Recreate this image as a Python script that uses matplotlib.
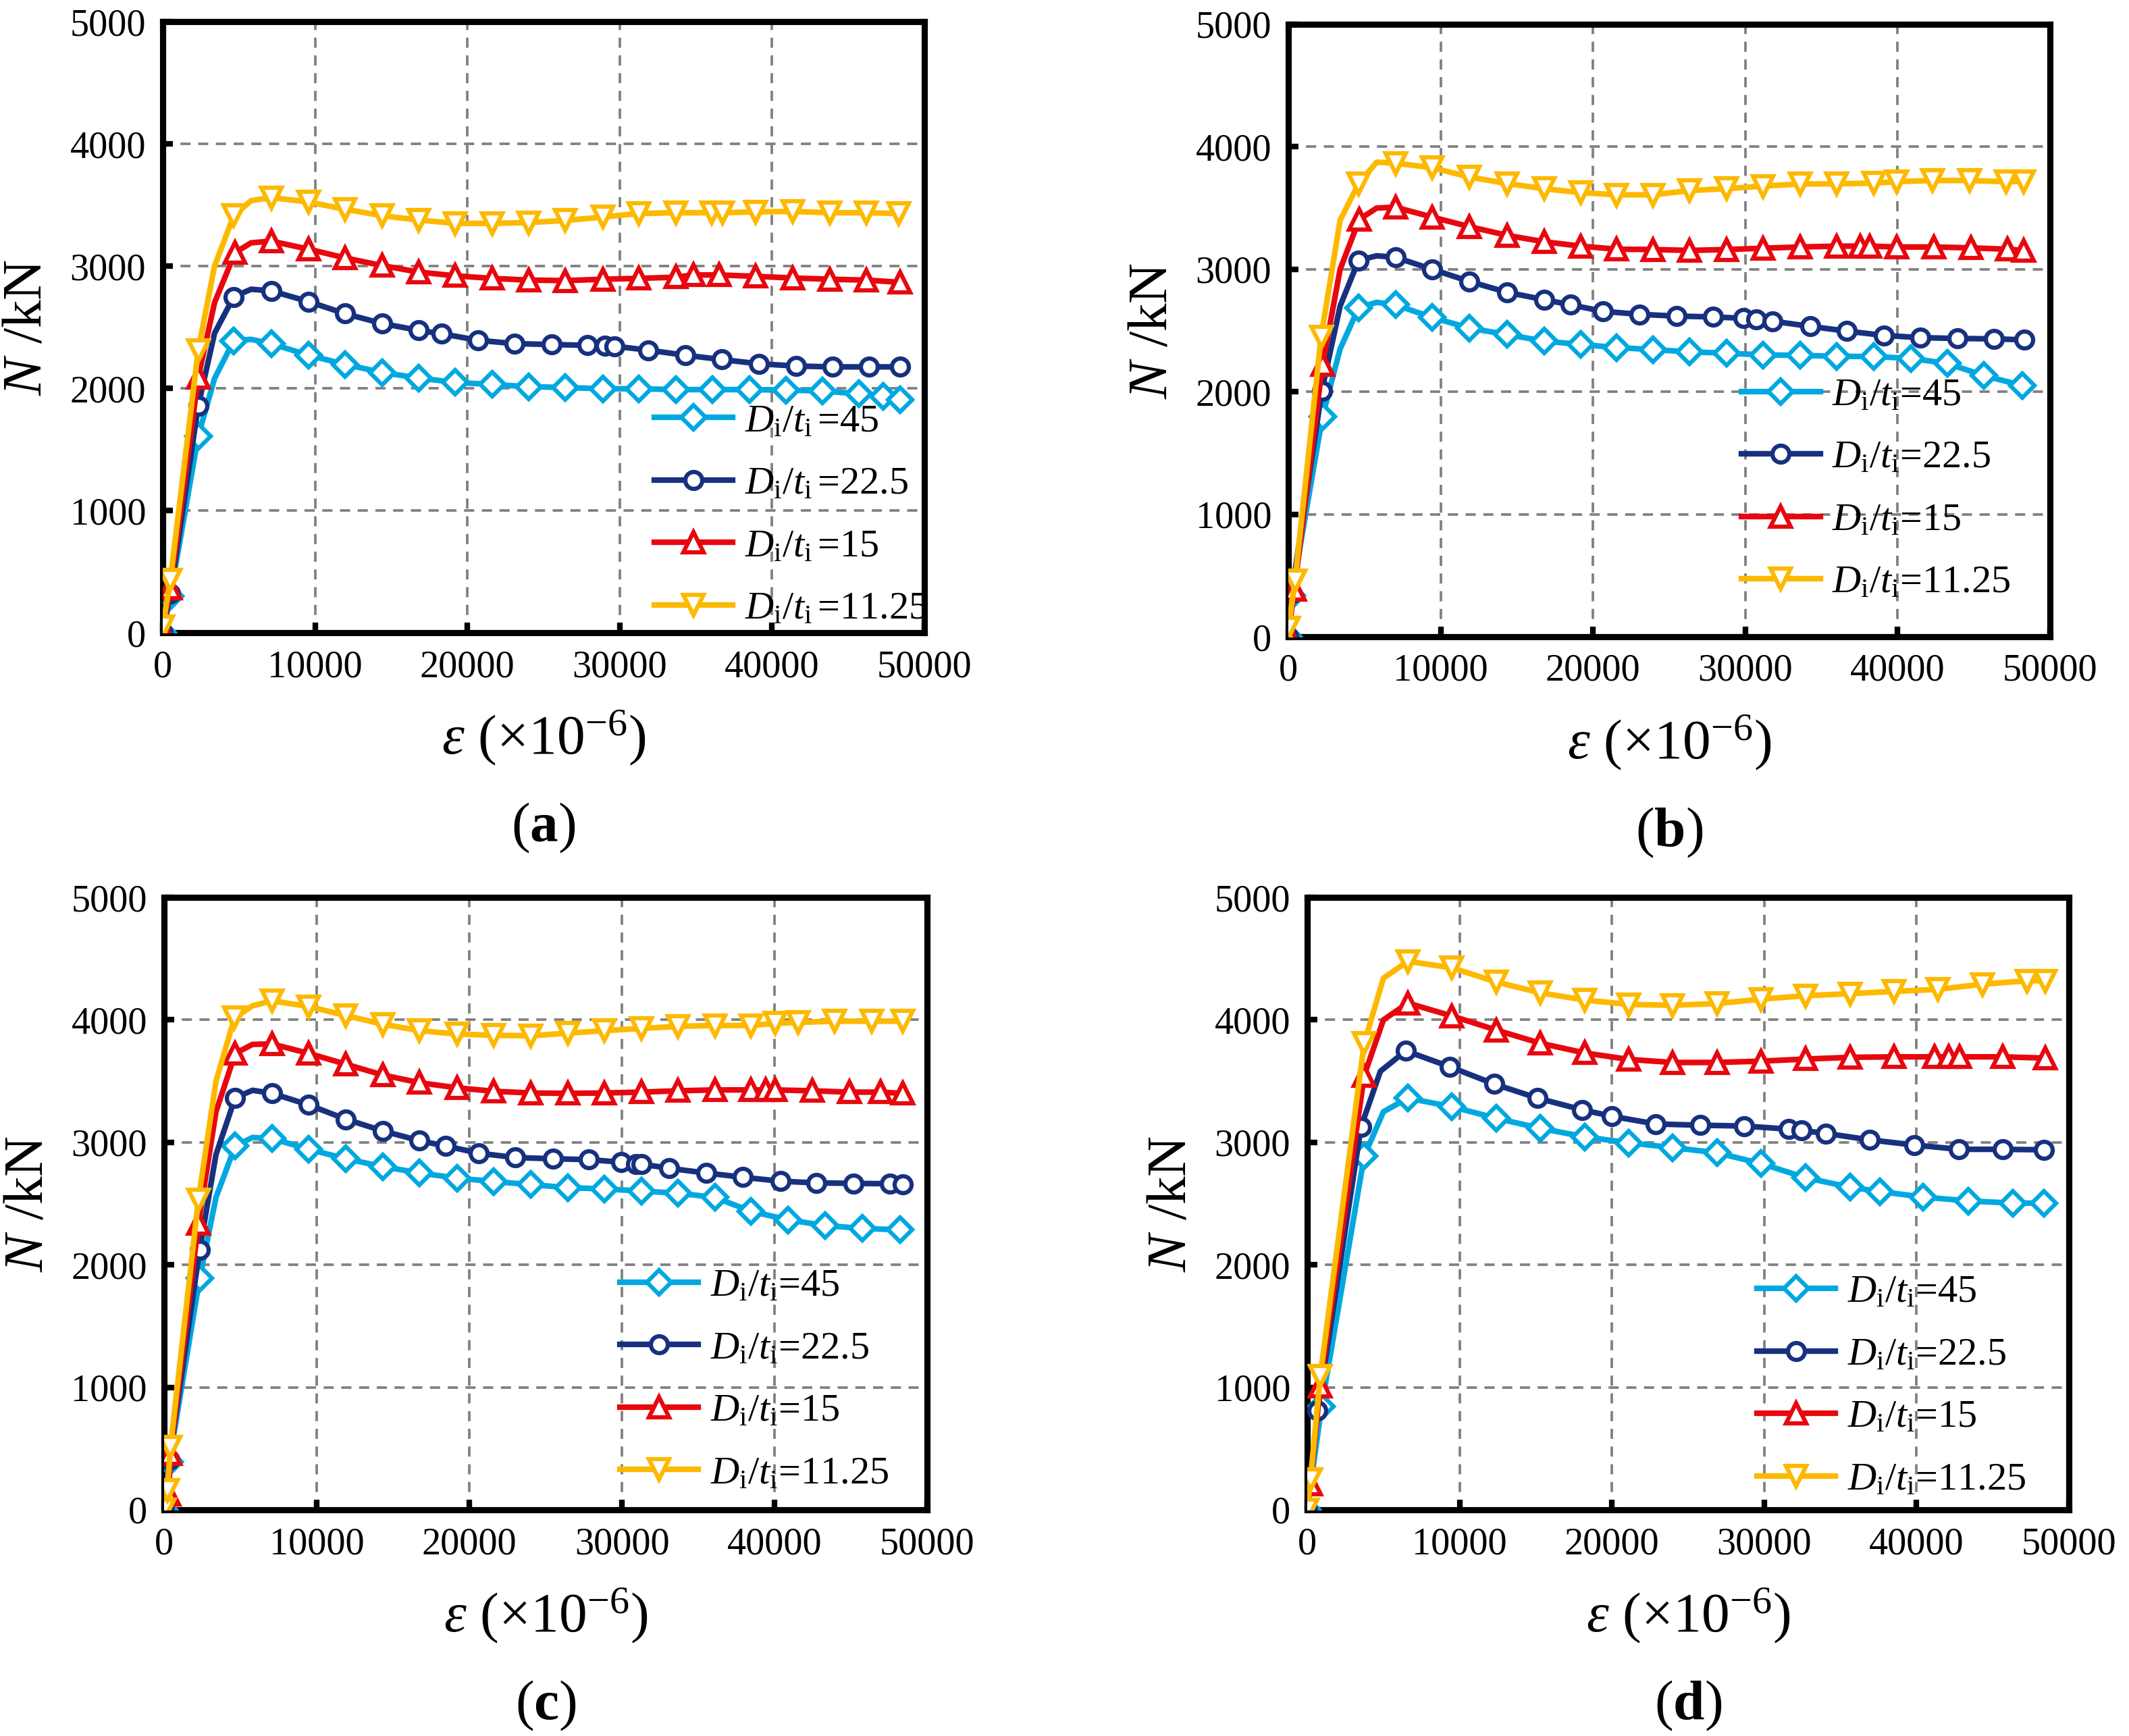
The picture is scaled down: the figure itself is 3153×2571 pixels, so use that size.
import matplotlib
matplotlib.use("Agg")
import matplotlib.pyplot as plt
import numpy as np

plt.rcParams['font.family'] = ['Liberation Serif', 'DejaVu Serif']
plt.rcParams['mathtext.fontset'] = 'custom'
plt.rcParams['mathtext.rm'] = 'Liberation Serif'
plt.rcParams['mathtext.it'] = 'Liberation Serif:italic'
plt.rcParams['mathtext.bf'] = 'Liberation Serif:bold'

# ---------------- data ----------------
labels_legend = ["=45", "=22.5", "=15", "=11.25"]
panel_names = ["a", "b", "c", "d"]

# Panel (a)
a45_x = [0, 500, 2330, 4660, 7120, 9580, 11950, 14400, 16780, 19200, 21610, 24030, 26440, 28900, 31270, 33690, 36100, 38520, 40930, 43310, 45680, 47290, 48390]
a45_y = [0, 300, 1609, 2389, 2365, 2270, 2196, 2129, 2084, 2048, 2031, 2013, 2006, 1996, 1996, 1989, 1989, 1989, 1985, 1978, 1954, 1936, 1908]
a225_x = [0, 500, 2330, 4660, 7120, 9580, 11950, 14400, 16780, 18310, 20680, 23090, 25510, 27880, 29030, 29660, 31860, 34320, 36690, 39150, 41570, 43980, 46360, 48390]
a225_y = [0, 320, 1855, 2748, 2797, 2709, 2611, 2530, 2474, 2446, 2393, 2365, 2358, 2351, 2347, 2344, 2312, 2270, 2235, 2200, 2182, 2175, 2175, 2175]
a15_x = [0, 500, 2330, 4750, 7120, 9580, 11950, 14400, 16780, 19200, 21610, 24030, 26440, 28900, 31270, 33690, 34830, 36530, 38900, 41360, 43810, 46190, 48390]
a15_y = [30, 362, 2090, 3110, 3204, 3138, 3067, 3004, 2951, 2920, 2899, 2885, 2881, 2892, 2899, 2909, 2927, 2927, 2916, 2902, 2892, 2885, 2867]
a1125_x = [0, 500, 2330, 4660, 7120, 9580, 11950, 14400, 16780, 19200, 21610, 24030, 26440, 28900, 31270, 33690, 36020, 36740, 38900, 41360, 43810, 46190, 48310]
a1125_y = [50, 432, 2312, 3412, 3560, 3524, 3465, 3412, 3377, 3349, 3349, 3356, 3373, 3401, 3430, 3436, 3436, 3436, 3443, 3447, 3436, 3436, 3430]
# unmarked points on the curves (knee / peak)
a45_cx, a45_cy = [3400, 5800], [2080, 2400]
a225_cx, a225_cy = [3400, 5800], [2450, 2810]
a15_cx, a15_cy = [3400, 5800], [2700, 3190]
a1125_cx, a1125_cy = [3400, 5800], [3000, 3535]

# Panel (b)
b45_x = [0, 220, 2240, 4610, 7030, 9440, 11900, 14360, 16780, 19190, 21560, 23940, 26350, 28770, 31140, 33600, 36010, 38430, 40850, 43260, 45670, 48170]
b45_y = [0, 335, 1797, 2685, 2710, 2607, 2519, 2467, 2414, 2386, 2361, 2344, 2326, 2315, 2301, 2297, 2290, 2287, 2273, 2231, 2132, 2051]
b225_x = [0, 220, 2200, 4610, 7030, 9440, 11900, 14360, 16780, 18530, 20640, 23060, 25470, 27890, 29860, 30740, 31800, 34260, 36670, 39090, 41500, 43920, 46330, 48310]
b225_y = [0, 352, 2009, 3073, 3098, 3000, 2900, 2812, 2752, 2710, 2657, 2632, 2618, 2611, 2600, 2593, 2576, 2534, 2495, 2460, 2442, 2435, 2432, 2424]
b15_x = [0, 400, 2240, 4660, 7030, 9440, 11900, 14360, 16780, 19190, 21560, 23940, 26350, 28770, 31140, 33600, 36010, 37550, 38160, 39920, 42380, 44800, 47210, 48260]
b15_y = [20, 388, 2220, 3408, 3507, 3426, 3348, 3277, 3225, 3189, 3164, 3161, 3154, 3161, 3172, 3182, 3189, 3189, 3189, 3182, 3182, 3175, 3164, 3154]
b1125_x = [0, 440, 2150, 4610, 7030, 9440, 11900, 14360, 16780, 19190, 21560, 23940, 26350, 28770, 31140, 33600, 36010, 38430, 39920, 42290, 44710, 47120, 48260]
b1125_y = [70, 458, 2450, 3700, 3866, 3830, 3753, 3700, 3658, 3626, 3608, 3608, 3643, 3658, 3679, 3697, 3697, 3704, 3715, 3725, 3725, 3715, 3718]
b45_cx, b45_cy = [3400, 5800], [2350, 2730]
b225_cx, b225_cy = [3400, 5800], [2700, 3110]
b15_cx, b15_cy = [3400, 5800], [3000, 3500]
b1125_cx, b1125_cy = [3400, 5800], [3400, 3875]

# Panel (c)
c45_x = [0, 340, 2330, 4660, 7080, 9490, 11910, 14320, 16740, 19200, 21610, 24030, 26440, 28860, 31270, 33690, 36100, 38470, 40890, 43310, 45760, 48220]
c45_y = [0, 390, 1889, 2971, 3031, 2943, 2866, 2802, 2750, 2708, 2680, 2655, 2630, 2620, 2602, 2585, 2550, 2437, 2367, 2321, 2297, 2286]
c225_x = [0, 340, 2330, 4660, 7080, 9490, 11910, 14320, 16740, 18430, 20640, 23010, 25470, 27840, 29960, 30930, 31270, 33090, 35510, 37920, 40380, 42750, 45170, 47580, 48390]
c225_y = [0, 407, 2121, 3364, 3400, 3305, 3189, 3094, 3013, 2971, 2911, 2876, 2866, 2859, 2838, 2823, 2823, 2788, 2750, 2715, 2683, 2669, 2665, 2662, 2655]
c15_x = [0, 300, 420, 2250, 4660, 7080, 9490, 11910, 14320, 16740, 19200, 21610, 24030, 26440, 28860, 31270, 33690, 36100, 38470, 39410, 40040, 42460, 44920, 46950, 48390]
c15_y = [0, 126, 460, 2339, 3726, 3803, 3726, 3638, 3550, 3487, 3445, 3417, 3403, 3400, 3403, 3410, 3421, 3428, 3428, 3428, 3428, 3421, 3410, 3410, 3400]
c1125_x = [0, 210, 420, 2250, 4620, 7080, 9490, 11910, 14320, 16740, 19200, 21610, 24030, 26440, 28860, 31270, 33690, 36100, 38470, 40040, 41530, 43940, 46360, 48390]
c1125_y = [0, 162, 513, 2532, 4018, 4155, 4109, 4035, 3965, 3912, 3884, 3874, 3870, 3891, 3912, 3930, 3947, 3954, 3954, 3972, 3979, 3989, 3989, 3989]
c45_cx, c45_cy = [3400, 5800], [2550, 3040]
c225_cx, c225_cy = [3400, 5800], [2900, 3425]
c15_cx, c15_cy = [3400, 5800], [3250, 3800]
c1125_cx, c1125_cy = [3400, 5800], [3500, 4115]

# Panel (d)
d45_x = [0, 940, 3740, 6600, 9490, 12430, 15280, 18210, 21110, 24000, 26890, 29790, 32720, 35620, 37570, 40430, 43400, 46300, 48380]
d45_y = [0, 843, 2887, 3361, 3291, 3196, 3115, 3045, 2996, 2957, 2915, 2827, 2711, 2634, 2599, 2553, 2522, 2504, 2504]
d225_x = [0, 680, 3530, 6470, 9360, 12260, 15110, 18040, 20000, 22890, 25790, 28680, 31620, 32430, 34040, 36940, 39870, 42770, 45660, 48380]
d225_y = [0, 808, 3126, 3747, 3617, 3477, 3361, 3266, 3213, 3150, 3140, 3133, 3108, 3097, 3073, 3020, 2978, 2943, 2943, 2939]
d15_x = [0, 210, 850, 3740, 6600, 9490, 12430, 15280, 18210, 21110, 24000, 26890, 29790, 32720, 35620, 38510, 41190, 42130, 42810, 45660, 48430]
d15_y = [0, 211, 1011, 3547, 4137, 4032, 3916, 3810, 3730, 3677, 3652, 3652, 3663, 3680, 3694, 3698, 3698, 3698, 3698, 3698, 3688]
d1125_x = [0, 210, 850, 3740, 6600, 9490, 12430, 15280, 18210, 21110, 24000, 26890, 29790, 32720, 35620, 38510, 41400, 44340, 47230, 48430]
d1125_y = [0, 246, 1089, 3810, 4478, 4425, 4309, 4221, 4162, 4126, 4119, 4133, 4169, 4197, 4214, 4232, 4249, 4291, 4319, 4319]
d45_cx, d45_cy = [5000], [3250]
d225_cx, d225_cy = [4800], [3580]
d15_cx, d15_cy = [5000], [4000]
d1125_cx, d1125_cy = [5000], [4340]

# ---------------- style ----------------
colors = ['#00A8E0', '#17317F', '#E8070E', '#FDB900']
markers = ['D', 'o', '^', 'v']
msizes = [6.0, 6.0, 7.0, 7.0]

panels = {
    'a': [(a45_x, a45_y, a45_cx, a45_cy), (a225_x, a225_y, a225_cx, a225_cy),
          (a15_x, a15_y, a15_cx, a15_cy), (a1125_x, a1125_y, a1125_cx, a1125_cy)],
    'b': [(b45_x, b45_y, b45_cx, b45_cy), (b225_x, b225_y, b225_cx, b225_cy),
          (b15_x, b15_y, b15_cx, b15_cy), (b1125_x, b1125_y, b1125_cx, b1125_cy)],
    'c': [(c45_x, c45_y, c45_cx, c45_cy), (c225_x, c225_y, c225_cx, c225_cy),
          (c15_x, c15_y, c15_cx, c15_cy), (c1125_x, c1125_y, c1125_cx, c1125_cy)],
    'd': [(d45_x, d45_y, d45_cx, d45_cy), (d225_x, d225_y, d225_cx, d225_cy),
          (d15_x, d15_y, d15_cx, d15_cy), (d1125_x, d1125_y, d1125_cx, d1125_cy)],
}

W, H = 3153, 2571
fig = plt.figure(figsize=(W / 300, H / 300), dpi=300)

# axes boxes in pixels: left, top, right, bottom
boxes = {
    'a': (241, 32, 1369, 937),
    'b': (1908, 36, 3036, 943),
    'c': (243, 1329, 1373, 2236),
    'd': (1936, 1329, 3064, 2236),
}
# legend anchor (centre-left of legend) in axes fraction
leg_anchor = {
    'a': (0.645, 0.192),
    'b': (0.595, 0.241),
    'c': (0.597, 0.212),
    'd': (0.590, 0.202),
}

for name in panel_names:
    l, t, r, b = boxes[name]
    ax = fig.add_axes([l / W, 1 - b / H, (r - l) / W, (b - t) / H])
    for i, (xs, ys, cx, cy) in enumerate(panels[name]):
        # full curve (marked + unmarked points), sorted by x
        allx = list(xs) + list(cx)
        ally = list(ys) + list(cy)
        order = np.argsort(allx, kind='stable')
        lx = np.array(allx)[order]
        ly = np.array(ally)[order]
        ax.plot(lx, ly, color=colors[i], lw=2.0, zorder=3 + i)
        ax.plot(xs, ys, ls='none', marker=markers[i], ms=msizes[i],
                mfc='white', mec=colors[i], mew=1.5, zorder=3 + i)
        sep = r'\,' if name == 'a' else ''
        ax.plot([], [], color=colors[i], lw=2.0, marker=markers[i], ms=msizes[i],
                mfc='white', mec=colors[i], mew=1.5,
                label=r'$D_\mathrm{i}/t_\mathrm{i}' + sep + '$' + labels_legend[i])

    ax.set_xlim(0, 50000)
    ax.set_ylim(0, 5000)
    ax.set_xticks([0, 10000, 20000, 30000, 40000, 50000])
    ax.set_yticks([0, 1000, 2000, 3000, 4000, 5000])
    ax.grid(True, color='#808080', ls=(0, (4, 3)), lw=0.9)
    ax.set_axisbelow(True)
    for s in ax.spines.values():
        s.set_linewidth(2.2)
    ax.tick_params(direction='in', length=3.5, width=2.0, labelsize=13.5,
                   top=False, right=False, pad=6)
    ax.set_ylabel(r'$N$ /kN', fontsize=20, labelpad=6)
    ax.set_xlabel(r'$\varepsilon$ (×10$^{-6}$)', fontsize=20)
    ax.xaxis.set_label_coords(0.5, -0.125)
    ax.text(0.5, -0.32, '(' + r'$\mathbf{' + name + '}$' + ')', transform=ax.transAxes,
            ha='center', va='center', fontsize=20)
    ax.legend(loc='center left', bbox_to_anchor=leg_anchor[name], frameon=False,
              fontsize=14, handlelength=2.0, handletextpad=0.3, labelspacing=0.68,
              borderaxespad=0, borderpad=0)

fig.savefig('out.png', dpi=300)
